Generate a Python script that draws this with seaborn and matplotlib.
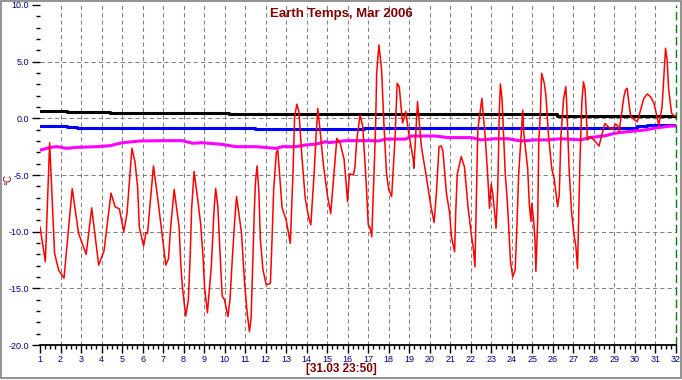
import matplotlib
matplotlib.use("Agg")
import matplotlib.pyplot as plt
import matplotlib.ticker as mticker
from matplotlib.patches import Rectangle
import pandas as pd
import seaborn as sns

# Outside air temperature (red): day of month, degC
air_day = [
    1.0, 1.26, 1.47, 1.71, 1.91, 2.17, 2.57, 2.88, 3.05, 3.25, 3.52, 3.86, 4.12, 4.46,
    4.66, 4.87, 5.08, 5.24, 5.48, 5.63, 5.76, 5.84, 6.05, 6.16, 6.24, 6.53, 6.72, 6.89,
    7.02, 7.13, 7.26, 7.37, 7.54, 7.78, 7.86, 7.94, 8.1, 8.23, 8.32, 8.39, 8.51, 8.67,
    8.83, 8.95, 9.02, 9.16, 9.35, 9.48, 9.56, 9.67, 9.77, 9.88, 9.99, 10.16, 10.26,
    10.37, 10.48, 10.58, 10.82, 10.97, 11.1, 11.21, 11.29, 11.39, 11.45, 11.5, 11.58,
    11.67, 11.74, 11.87, 12.03, 12.23, 12.31, 12.39, 12.52, 12.59, 12.68, 12.8, 13.0,
    13.2, 13.33, 13.41, 13.52, 13.62, 13.77, 13.93, 14.09, 14.2, 14.36, 14.46, 14.54,
    14.63, 14.82, 15.01, 15.17, 15.33, 15.47, 15.63, 15.82, 15.92, 15.99, 16.08, 16.28,
    16.35, 16.44, 16.6, 16.73, 16.89, 17.0, 17.08, 17.17, 17.28, 17.36, 17.41, 17.52,
    17.65, 17.76, 17.89, 18.0, 18.14, 18.3, 18.41, 18.51, 18.67, 18.78, 18.83, 18.98,
    19.19, 19.22, 19.3, 19.4, 19.46, 19.59, 19.83, 20.03, 20.21, 20.32, 20.45, 20.56,
    20.64, 20.81, 20.97, 21.05, 21.21, 21.26, 21.34, 21.53, 21.69, 21.86, 22.02, 22.13,
    22.2, 22.26, 22.34, 22.54, 22.59, 22.7, 22.83, 22.91, 22.99, 23.07, 23.15, 23.23,
    23.31, 23.39, 23.44, 23.52, 23.6, 23.68, 23.77, 23.85, 23.93, 24.04, 24.16, 24.24,
    24.33, 24.45, 24.53, 24.58, 24.77, 24.85, 24.93, 24.97, 25.06, 25.13, 25.17, 25.26,
    25.31, 25.39, 25.45, 25.58, 25.66, 25.79, 25.95, 26.06, 26.23, 26.31, 26.39, 26.52,
    26.63, 26.68, 26.79, 26.91, 27.03, 27.12, 27.2, 27.23, 27.31, 27.41, 27.49, 27.57,
    27.6, 27.68, 27.83, 28.09, 28.25, 28.38, 28.54, 28.61, 28.73, 28.9, 29.06, 29.17,
    29.22, 29.3, 29.46, 29.54, 29.62, 29.7, 29.79, 29.95, 30.11, 30.27, 30.43, 30.6,
    30.76, 30.92, 31.03, 31.16, 31.24, 31.32, 31.4, 31.49, 31.57, 31.64, 31.78, 31.84,
    31.97,
]
air_temp = [
    -9.57, -12.65, -2.15, -11.9, -13.4, -14.1, -6.2, -10.15, -11.0, -12.0, -7.9, -12.95,
    -11.7, -6.6, -7.8, -8.0, -10.0, -8.4, -2.65, -3.85, -6.1, -9.6, -11.27, -10.1,
    -10.15, -4.2, -6.8, -9.3, -11.3, -12.95, -12.4, -9.6, -6.27, -9.6, -12.8, -14.85,
    -17.45, -16.05, -12.2, -8.0, -4.7, -6.9, -9.3, -12.3, -14.9, -17.15, -13.1, -8.2,
    -6.18, -7.8, -11.7, -15.7, -16.0, -17.5, -16.0, -12.5, -9.3, -6.9, -10.1, -14.5,
    -17.2, -18.83, -17.6, -11.7, -8.0, -5.7, -4.2, -6.5, -10.7, -13.4, -14.7, -14.56,
    -10.7, -6.3, -3.0, -2.8, -5.0, -7.9, -8.97, -11.03, -4.9, 0.14, 1.24, 0.6, -3.5,
    -7.1, -8.7, -9.4, -4.9, -1.4, 0.88, -0.7, -4.2, -6.8, -8.4, -4.9, -1.77, -2.2, -3.6,
    -5.7, -7.36, -4.9, -5.0, -4.3, -1.9, 0.3, -0.7, -5.4, -9.4, -9.6, -10.45, -4.9, -0.5,
    3.97, 6.47, 4.3, -0.4, -4.9, -6.3, -6.9, -1.9, 3.09, 2.8, -0.4, 0.2, 0.6, -1.4, -3.6,
    -4.4, -1.9, 1.47, 0.2, -2.5, -5.15, -7.5, -9.2, -6.6, -2.5, -2.44, -2.9, -6.6, -8.4,
    -10.4, -11.77, -8.4, -4.9, -3.38, -4.3, -7.8, -10.2, -11.6, -13.1, -8.0, -1.0, 1.76,
    0.6, -1.6, -5.3, -7.95, -5.8, -6.7, -8.1, -9.7, -6.3, 0.7, 3.03, 1.7, -1.6, -5.0,
    -7.1, -9.7, -12.6, -13.98, -13.4, -9.8, -5.0, -1.6, 0.73, -1.3, -4.4, -7.6, -9.1,
    -7.5, -9.0, -10.8, -13.5, -9.0, -2.1, 0.5, 3.97, 3.1, 2.0, -1.6, -4.5, -5.3, -7.8,
    -6.7, -1.6, 1.7, 2.8, 1.0, -4.5, -8.3, -10.3, -11.3, -13.25, -10.8, -4.4, 1.4, 3.23,
    2.5, 1.5, -1.9, -1.6, -2.1, -2.44, -1.5, -0.45, -0.6, -0.8, -1.0, -0.5, -0.7, -1.2,
    -0.2, 1.91, 2.5, 2.65, 1.4, 0.2, -0.1, -0.3, 0.7, 1.76, 2.15, 1.9, 1.35, 0.5, -0.6,
    0.2, 1.0, 3.38, 6.18, 5.1, 2.6, 0.5, 0.3, 0.2,
]

# Slow ground sensors (stepped traces)
black_day = [1.0, 2.3, 4.4, 10.2, 26.2, 32.0]
black_temp = [0.67, 0.56, 0.44, 0.38, 0.2, 0.2]

blue_day = [1.0, 2.3, 2.8, 11.5, 16.8, 30.1, 30.6, 32.0]
blue_temp = [-0.65, -0.75, -0.86, -0.95, -0.83, -0.7, -0.62, -0.62]

magenta_day = [
    1.0, 1.24, 1.49, 1.83, 2.31, 2.8, 3.77, 4.4, 4.74, 5.03, 5.85, 6.97, 7.94, 8.43,
    8.91, 9.88, 10.56, 11.53, 12.5, 12.8, 13.48, 13.96, 14.45, 14.93, 15.08, 15.9,
    17.17, 17.5, 17.84, 18.82, 19.1, 20.27, 20.9, 22.02, 22.5, 23.18, 23.82, 24.45,
    25.13, 25.76, 26.39, 27.36, 27.84, 28.52, 29.01, 29.64, 30.47, 31.1, 31.73, 32.0,
]
magenta_temp = [
    -2.8, -2.7, -2.56, -2.5, -2.65, -2.56, -2.5, -2.42, -2.27, -2.15, -2.0, -1.97,
    -1.97, -2.2, -2.15, -2.3, -2.5, -2.5, -2.65, -2.5, -2.5, -2.35, -2.27, -2.06, -2.15,
    -1.97, -1.97, -2.0, -1.83, -1.83, -1.56, -1.56, -1.7, -1.7, -1.9, -1.8, -1.8, -2.0,
    -1.9, -1.9, -1.8, -1.9, -1.68, -1.55, -1.32, -1.18, -1.03, -0.83, -0.68, -0.68,
]

TITLE_RED = "#800000"
NAVY = "#000080"


def main() -> None:
    sns.set_theme(style="white")
    plt.rcParams["font.family"] = ["Liberation Sans", "DejaVu Sans"]

    fig = plt.figure(figsize=(6.82, 3.80), dpi=100)
    fig.patch.set_facecolor("white")
    ax = fig.add_axes([40 / 682, 35 / 380, 636 / 682, 340 / 380])
    ax.set_facecolor("white")

    # dashed grid, drawn by hand so the edges stay clear
    grid_kw = dict(color="#808080", lw=0.75, ls=(0, (4, 3)), zorder=0)
    for d in range(2, 32):
        ax.axvline(d, **grid_kw)
    for v in (-15, -10, -5, 0, 5):
        ax.axhline(v, **grid_kw)
    ax.axvline(32, color="#008000", lw=1.0, ls=(0, (6, 3)), clip_on=False, zorder=1)

    black = pd.DataFrame({"day": black_day, "temp": black_temp})
    blue = pd.DataFrame({"day": blue_day, "temp": blue_temp})
    magenta = pd.DataFrame({"day": magenta_day, "temp": magenta_temp})
    air = pd.DataFrame({"day": air_day, "temp": air_temp})

    sns.lineplot(data=black, x="day", y="temp", ax=ax, color="black", lw=2.2,
                 drawstyle="steps-post", estimator=None, sort=False)
    sns.lineplot(data=blue, x="day", y="temp", ax=ax, color="#0000FF", lw=2.2,
                 drawstyle="steps-post", estimator=None, sort=False)
    sns.lineplot(data=magenta, x="day", y="temp", ax=ax, color="#FF00FF", lw=2.2,
                 estimator=None, sort=False)
    sns.lineplot(data=air, x="day", y="temp", ax=ax, color="#FF0000", lw=1.1,
                 estimator=None, sort=False)

    ax.set_xlim(1, 32)
    ax.set_ylim(-20, 10)
    ax.set_xlabel("")
    ax.set_ylabel("")

    ax.xaxis.set_major_locator(mticker.MultipleLocator(1))
    ax.xaxis.set_minor_locator(mticker.MultipleLocator(0.25))
    ax.yaxis.set_major_locator(mticker.MultipleLocator(5))
    ax.yaxis.set_minor_locator(mticker.MultipleLocator(1))
    ax.yaxis.set_major_formatter(mticker.FormatStrFormatter("%.1f"))

    ax.tick_params(axis="x", which="major", bottom=True, length=6, width=1,
                   direction="out", color="black", labelcolor=NAVY, labelsize=6.5, pad=1.5)
    ax.tick_params(axis="x", which="minor", bottom=True, length=3, width=1,
                   direction="out", color="black")
    ax.tick_params(axis="y", which="major", left=True, length=5.5, width=1,
                   direction="out", color="black", labelcolor=NAVY, labelsize=6.5, pad=2.5)
    ax.tick_params(axis="y", which="minor", left=True, length=3, width=1,
                   direction="out", color="black")

    for side in ("left", "top", "right"):
        ax.spines[side].set_visible(False)
    ax.spines["bottom"].set_color("black")
    ax.spines["bottom"].set_linewidth(1.3)

    fig.text(0.5, 1 - 14 / 380, "Earth Temps, Mar 2006", ha="center", va="center",
             color=TITLE_RED, fontsize=9.5, fontweight="bold")
    fig.text(0.5, 1 - 369 / 380, "[31.03 23:50]", ha="center", va="center",
             color=TITLE_RED, fontsize=8.5, fontweight="bold")
    fig.text(8 / 682, 1 - 180 / 380, "°C", ha="center", va="center", rotation=90,
             color=TITLE_RED, fontsize=7)

    # window frame
    fig.patches.append(Rectangle((0.5 / 682, 2.5 / 380), 680.5 / 682, 377 / 380,
                                 transform=fig.transFigure, fill=False,
                                 edgecolor="#808080", lw=1.2))

    fig.savefig("out.png", dpi=100)
    plt.close(fig)


if __name__ == "__main__":
    main()
